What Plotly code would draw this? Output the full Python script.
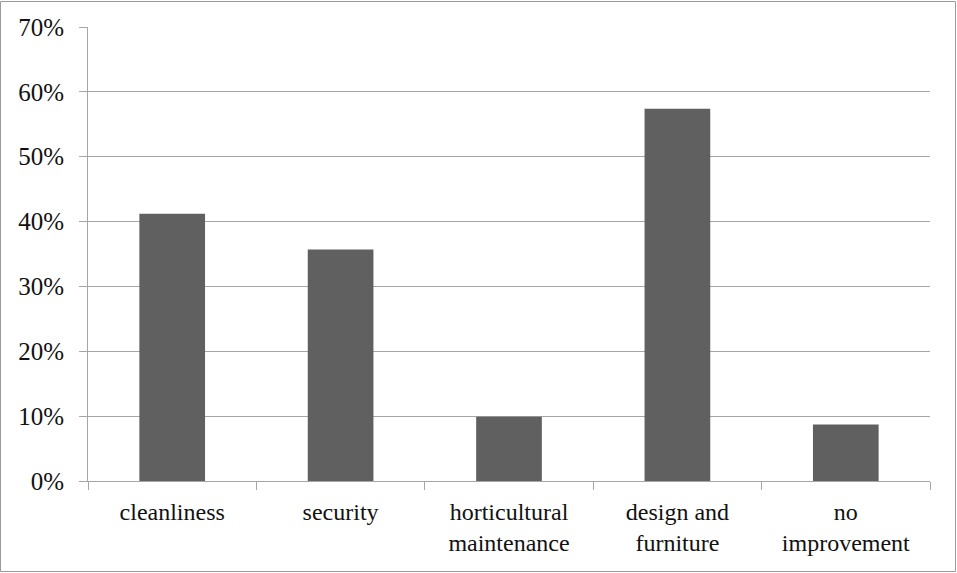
import plotly.graph_objects as go

categories = ["cleanliness", "security", "horticultural<br>maintenance", "design and<br>furniture", "no<br>improvement"]
values = [0.412, 0.357, 0.099, 0.574, 0.087]
y_ticks = [0, 0.1, 0.2, 0.3, 0.4, 0.5, 0.6, 0.7]

W, H = 957, 573
ML, MR, MT, MB = 88, 27, 27, 92
pw, ph = W - ML - MR, H - MT - MB
FONT = "'Liberation Serif', 'Times New Roman', 'DejaVu Serif', serif"

fig = go.Figure(go.Bar(x=categories, y=values, marker=dict(color="#606060", line=dict(width=0))))

fig.update_layout(
    width=W, height=H,
    margin=dict(l=ML, r=MR, t=MT, b=MB, pad=0),
    paper_bgcolor="white", plot_bgcolor="white",
    bargap=0.61,
    showlegend=False,
    font=dict(family=FONT, color="#111111"),
    shapes=[dict(type="rect", xref="paper", yref="paper",
                 x0=(-ML + 0.5) / pw, x1=1 + (MR - 1.5) / pw,
                 y0=(-MB + 1.5) / ph, y1=1 + (MT - 1.5) / ph,
                 line=dict(color="#9a9a9a", width=1))],
)
fig.update_yaxes(
    range=[0, 0.7], tickvals=y_ticks, tickformat=".0%",
    showgrid=True, gridcolor="#a6a6a6", gridwidth=1,
    showline=True, linecolor="#a6a6a6", linewidth=1,
    ticks="outside", ticklen=8, tickcolor="#a6a6a6",
    tickfont=dict(size=25, family=FONT),
    ticklabelstandoff=10,
    zeroline=False, fixedrange=True,
)
fig.update_xaxes(
    showline=True, linecolor="#a6a6a6", linewidth=1,
    ticks="outside", ticklen=8, tickcolor="#a6a6a6", tickson="boundaries",
    tickfont=dict(size=24, family=FONT),
    ticklabelstandoff=9,
    showgrid=False, fixedrange=True,
)

fig.write_html("out.html")
